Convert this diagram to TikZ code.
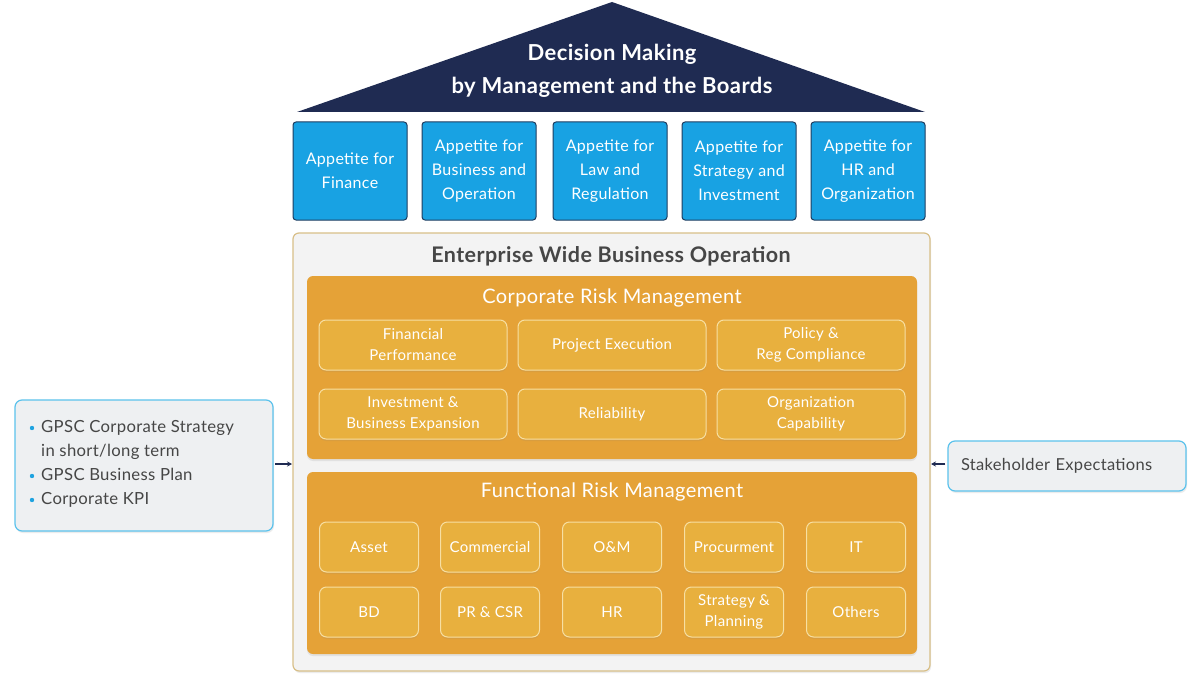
\documentclass[tikz,border=0pt]{standalone}
\usepackage{fontspec}
\setmainfont{Lato}[LetterSpace=2]
\usetikzlibrary{arrows.meta,shadows}
\definecolor{navy}{HTML}{1F2B52}
\definecolor{appblue}{HTML}{18A2E3}
\definecolor{appborder}{HTML}{1E3D60}
\definecolor{outerfill}{HTML}{F3F3F3}
\definecolor{outerborder}{HTML}{D8BF88}
\definecolor{orangebg}{HTML}{E5A237}
\definecolor{orangein}{HTML}{E8B03E}
\definecolor{orangeline}{HTML}{F7DFA2}
\definecolor{txtgray}{HTML}{464646}
\definecolor{sidefill}{HTML}{EEF0F2}
\definecolor{sideborder}{HTML}{5BC2EC}
\definecolor{bullet}{HTML}{1FA3E0}
\tikzset{
  appbox/.style={draw=appborder, line width=1pt, fill=appblue, rounded corners=3pt,
    minimum width=114pt, minimum height=98pt, inner sep=0pt, align=center,
    text=white, font=\fontsize{16}{24}\selectfont},
  outerbox/.style={draw=outerborder, line width=1.2pt, fill=outerfill, rounded corners=6pt,
    drop shadow={shadow xshift=1pt, shadow yshift=-2pt, opacity=0.15}},
  orangebox/.style={fill=orangebg, rounded corners=6pt,
    drop shadow={shadow xshift=0pt, shadow yshift=-2pt, opacity=0.15}},
  riskbox/.style={draw=orangeline, line width=1pt, fill=orangein, rounded corners=7pt,
    inner sep=0pt, align=center, text=white, font=\fontsize{15}{21}\selectfont,
    drop shadow={shadow xshift=0pt, shadow yshift=-2pt, opacity=0.12}},
  corpbox/.style={riskbox, minimum width=188pt, minimum height=50pt},
  funcbox/.style={riskbox, minimum width=99pt, minimum height=50pt},
  sidebox/.style={draw=sideborder, line width=1.2pt, fill=sidefill, rounded corners=7pt,
    drop shadow={shadow xshift=1pt, shadow yshift=-2pt, opacity=0.15}},
  link/.style={navy, line width=1.2pt, -{Stealth[length=5pt,width=5pt]}},
}
\begin{document}
\begin{tikzpicture}[x=1pt,y=-1pt]
\useasboundingbox (0,0) rectangle (1200,682);
\fill[white] (0,0) rectangle (1200,682);

% roof
\fill[navy] (612,2) -- (925,112) -- (297,112) -- cycle;
\node[text=white, font=\bfseries\fontsize{22}{33}\selectfont, align=center] (roof) at (612,71)
  {Decision Making\\by Management and the Boards};

% appetite boxes
\node[appbox] (a1) at (350,171) {Appetite for\\Finance};
\node[appbox] (a2) at (479,171) {Appetite for\\Business and\\Operation};
\node[appbox] (a3) at (610,171) {Appetite for\\Law and\\Regulation};
\node[appbox] (a4) at (739,171) {Appetite for\\Strategy and\\Investment};
\node[appbox] (a5) at (868,171) {Appetite for\\HR and\\Organization};

% outer box
\filldraw[outerbox] (293,233) rectangle (930,671);
\node[text=txtgray, font=\bfseries\fontsize{21.5}{24}\selectfont] (ewbo) at (611,256) {Enterprise Wide Business Operation};

% corporate risk management
\fill[orangebox] (307,276) rectangle (917,459);
\node[text=white, font=\fontsize{20}{22}\selectfont] (crm) at (612,297.5) {Corporate Risk Management};
\node[corpbox] (c1) at (413,345) {Financial\\Performance};
\node[corpbox] (c2) at (612,345) {Project Execution};
\node[corpbox] (c3) at (811,345) {Policy \&\\Reg Compliance};
\node[corpbox] (c4) at (413,414) {Investment \&\\Business Expansion};
\node[corpbox] (c5) at (612,414) {Reliability};
\node[corpbox] (c6) at (811,414) {Organization\\Capability};

% functional risk management
\fill[orangebox] (307,472) rectangle (917,654);
\node[text=white, font=\fontsize{20}{22}\selectfont] (frm) at (612,491.5) {Functional Risk Management};
\node[funcbox] (f1) at (369,547) {Asset};
\node[funcbox] (f2) at (490,547) {Commercial};
\node[funcbox] (f3) at (612,547) {O\&M};
\node[funcbox] (f4) at (734,547) {Procurment};
\node[funcbox] (f5) at (856,547) {IT};
\node[funcbox] (f6) at (369,612) {BD};
\node[funcbox] (f7) at (490,612) {PR \& CSR};
\node[funcbox] (f8) at (612,612) {HR};
\node[funcbox] (f9) at (734,612) {Strategy \&\\Planning};
\node[funcbox] (f10) at (856,612) {Others};

% left side box
\filldraw[sidebox] (15,400) rectangle (273,531);
\node[anchor=west, text=txtgray, font=\fontsize{16.7}{24}\selectfont, align=left, inner sep=0pt] (lt) at (41,464)
  {GPSC Corporate Strategy\\in short/long term\\GPSC Business Plan\\Corporate KPI};
\foreach \yy in {428,476,500} \fill[bullet] (32,\yy) circle (2.2pt);
\coordinate (lout) at (275,464);
\coordinate (lin) at (292,464);
\draw[link] (lout) -- (lin);

% right side box
\node[sidebox, minimum width=238pt, minimum height=50pt,
  text=txtgray, font=\fontsize{16.5}{18}\selectfont, align=left, text width=212pt] (rt) at (1067,466)
  {Stakeholder Expectations};
\coordinate (rin) at (931,464);
\draw[link] (rt.west |- rin) ++(-2pt,0) coordinate (rout) -- (rin);
\end{tikzpicture}
\end{document}
